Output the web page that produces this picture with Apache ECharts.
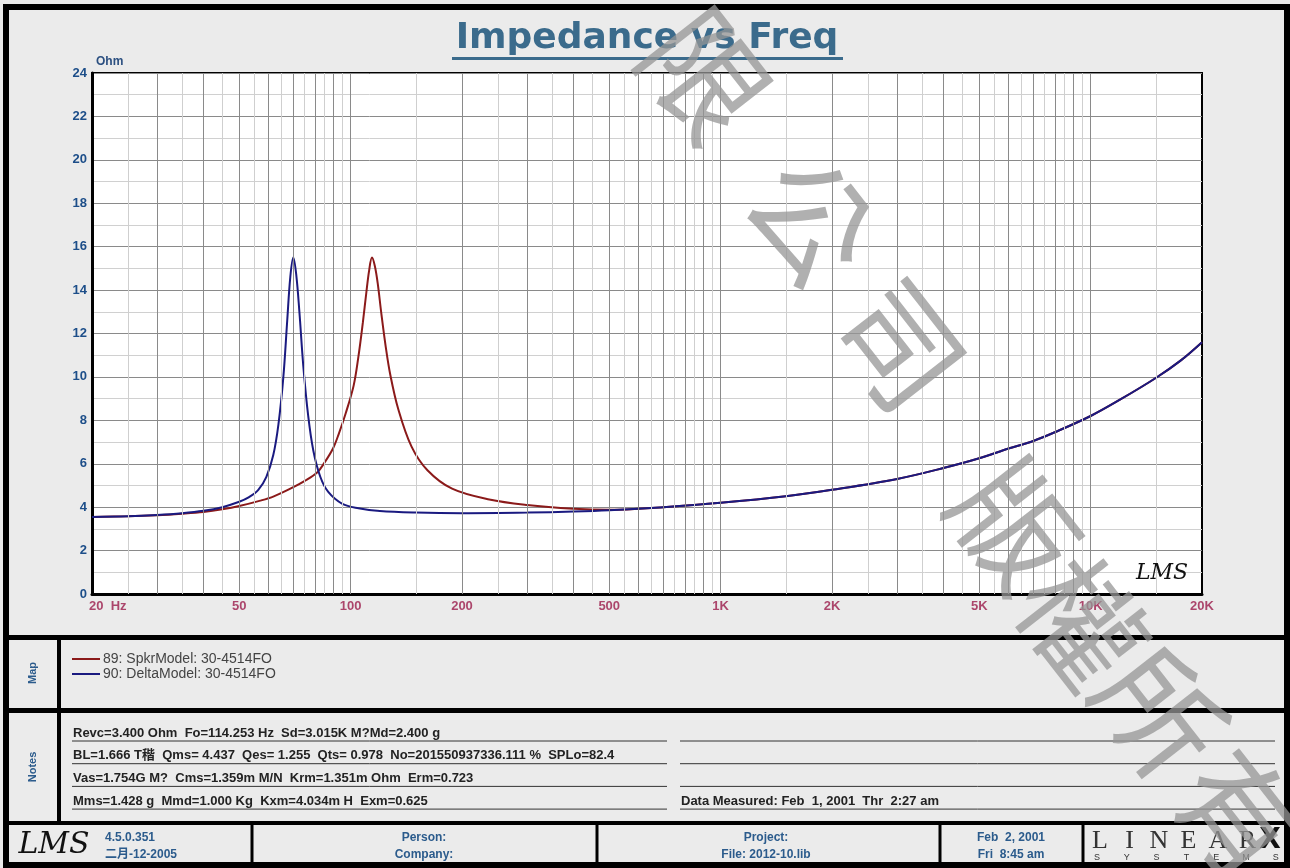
<!DOCTYPE html>
<html>
<head>
<meta charset="utf-8">
<title>Impedance vs Freq</title>
<script src="https://cdn.jsdelivr.net/npm/echarts@6/dist/echarts.min.js"></script>
<style>
html, body { margin: 0; padding: 0; background: #fff; overflow: hidden; }
#chart { width: 1290px; height: 868px; }
</style>
</head>
<body>
<div id="chart"></div>
<script>
// 89: SpkrModel (Hz / Ohm)
const spkrFreq = [20, 25, 30, 35, 40, 45, 50, 57, 62, 69.6, 75, 81.2, 85, 89.6, 93, 96.9, 101.9, 104.9, 107.9, 110.3, 112.2, 114.2, 116.3, 118.4, 121.1, 124.4, 128, 134.6, 146, 161.3, 188, 237, 300, 400, 500, 700, 1000, 1500, 2000, 3000, 4000, 5000, 6000, 7000, 8000, 10000, 12000, 15000, 17500, 20000]
const spkrOhm = [3.55, 3.58, 3.63, 3.7, 3.78, 3.9, 4.05, 4.3, 4.5, 4.9, 5.2, 5.6, 6.05, 6.7, 7.4, 8.3, 9.6, 10.9, 12.5, 13.9, 14.9, 15.5, 15.1, 14.3, 12.9, 11.4, 10.1, 8.5, 6.8, 5.7, 4.85, 4.35, 4.1, 3.93, 3.88, 4.0, 4.2, 4.5, 4.8, 5.3, 5.8, 6.25, 6.7, 7.05, 7.45, 8.2, 8.95, 9.95, 10.75, 11.6]

// 90: DeltaModel (Hz / Ohm)
const deltaFreq = [20, 25, 30, 35, 40, 45, 50, 53, 56.3, 59.2, 61.8, 63.8, 65.8, 67.4, 68.7, 70, 71.3, 72.7, 74.5, 76.8, 79.3, 82.8, 87, 95, 105, 120, 150, 200, 300, 400, 500, 700, 1000, 1500, 2000, 3000, 4000, 5000, 6000, 7000, 8000, 10000, 12000, 15000, 17500, 20000]
const deltaOhm = [3.55, 3.58, 3.64, 3.72, 3.83, 4.0, 4.25, 4.45, 4.8, 5.4, 6.4, 7.8, 10.0, 12.6, 14.6, 15.5, 14.7, 13.0, 10.5, 8.2, 6.6, 5.4, 4.7, 4.15, 3.95, 3.82, 3.75, 3.72, 3.75, 3.8, 3.86, 4.0, 4.2, 4.5, 4.8, 5.3, 5.8, 6.25, 6.7, 7.05, 7.45, 8.2, 8.95, 9.95, 10.75, 11.6]

// x axis labels
const freqTicks = [20, 50, 100, 200, 500, 1000, 2000, 5000, 10000, 20000]
const freqTickLabels = ['20  Hz', '50', '100', '200', '500', '1K', '2K', '5K', '10K', '20K']

const seriesNames = ['89: SpkrModel: 30-4514FO', '90: DeltaModel: 30-4514FO']
const seriesColors = ['#8b1a1a', '#1a1a80']

const notesLeft = [
  'Revc=3.400 Ohm  Fo=114.253 Hz  Sd=3.015K M?Md=2.400 g',
  'BL=1.666 T稭  Qms= 4.437  Qes= 1.255  Qts= 0.978  No=201550937336.111 %  SPLo=82.4',
  'Vas=1.754G M?  Cms=1.359m M/N  Krm=1.351m Ohm  Erm=0.723',
  'Mms=1.428 g  Mmd=1.000 Kg  Kxm=4.034m H  Exm=0.625'
]
const notesRight = ['', '', '', 'Data Measured: Feb  1, 2001  Thr  2:27 am']

const watermarkChars = ['限', '公', '司', '版', '權', '所', '有']

// log grid lines: 1, 1.5, 2, 2.5 ... 9.5 in every decade
const gridFreqs = []
;[10, 100, 1000, 10000].forEach(d => {
  for (let m = 1; m < 10; m += 0.5) {
    const f = d * m
    if (f > 20 && f < 20000) gridFreqs.push({ f: f, major: Number.isInteger(m) })
  }
})

const SANS = '"Liberation Sans", Arial, "Noto Sans CJK SC", sans-serif'
const LABEL_BLUE = '#2b5b8c'

const chart = echarts.init(document.getElementById('chart'))

function txt(x, y, text, font, fill, align, extra) {
  return Object.assign({
    type: 'text', x: x, y: y,
    style: {
      text: text, font: font, fill: fill,
      align: align || 'left', textAlign: align || 'left',
      verticalAlign: 'middle', textVerticalAlign: 'middle'
    }
  }, extra || {})
}
function line(x1, y1, x2, y2, w, color) {
  return { type: 'line', shape: { x1: x1, y1: y1, x2: x2, y2: y2 }, style: { stroke: color || '#000', lineWidth: w } }
}

const graphics = []
// frame
graphics.push({ type: 'rect', shape: { x: 6, y: 7, width: 1281, height: 858 }, style: { fill: null, stroke: '#000', lineWidth: 6 } })
graphics.push(line(6, 637.5, 1287, 637.5, 5))
graphics.push(line(6, 710.5, 1287, 710.5, 5))
graphics.push(line(6, 823, 1287, 823, 4))
graphics.push(line(59, 640, 59, 821, 4))
;[252, 597, 940, 1083].forEach(x => graphics.push(line(x, 824, x, 864, 3)))

// title
graphics.push(txt(647, 39, 'Impedance vs Freq', 'bold 36px "DejaVu Sans", Verdana, sans-serif', '#3b6b8c', 'center'))
graphics.push(line(452, 58.5, 843, 58.5, 3, '#3b6b8c'))

// LMS logo inside plot
graphics.push(txt(1162, 573, 'LMS', 'italic 22px "DejaVu Serif", serif', '#111', 'center', { z: 10 }))

// Map panel
graphics.push(txt(33, 673, 'Map', 'bold 11px ' + SANS, LABEL_BLUE, 'center', { rotation: Math.PI / 2 }))
seriesNames.forEach((name, i) => {
  const y = 659 + i * 15
  graphics.push(line(72, y, 100, y, 2, seriesColors[i]))
  graphics.push(txt(103, y, name, '14px ' + SANS, '#444', 'left'))
})

// Notes panel
graphics.push(txt(33, 767, 'Notes', 'bold 11px ' + SANS, LABEL_BLUE, 'center', { rotation: Math.PI / 2 }))
notesLeft.forEach((s, i) => {
  const y = 733 + i * 22.7
  graphics.push(txt(73, y, s, 'bold 13px ' + SANS, '#222', 'left'))
  graphics.push(line(72, y + 8, 667, y + 8, 1, '#333'))
  graphics.push(txt(681, y, notesRight[i], 'bold 13px ' + SANS, '#222', 'left'))
  graphics.push(line(680, y + 8, 1275, y + 8, 1, '#333'))
})

// footer
graphics.push(txt(54, 845, 'LMS', 'italic 30px "DejaVu Serif", serif', '#111', 'center'))
graphics.push(txt(105, 838, '4.5.0.351', 'bold 12px ' + SANS, LABEL_BLUE, 'left'))
graphics.push(txt(105, 855, '二月-12-2005', 'bold 12px ' + SANS, LABEL_BLUE, 'left'))
graphics.push(txt(424, 838, 'Person:', 'bold 12px ' + SANS, LABEL_BLUE, 'center'))
graphics.push(txt(424, 855, 'Company:', 'bold 12px ' + SANS, LABEL_BLUE, 'center'))
graphics.push(txt(766, 838, 'Project:', 'bold 12px ' + SANS, LABEL_BLUE, 'center'))
graphics.push(txt(766, 855, 'File: 2012-10.lib', 'bold 12px ' + SANS, LABEL_BLUE, 'center'))
graphics.push(txt(1011, 838, 'Feb  2, 2001', 'bold 12px ' + SANS, LABEL_BLUE, 'center'))
graphics.push(txt(1011, 855, 'Fri  8:45 am', 'bold 12px ' + SANS, LABEL_BLUE, 'center'))
;['L', 'I', 'N', 'E', 'A', 'R'].forEach((c, i) => {
  graphics.push(txt(1100 + i * 29.5, 841, c, '26px "Liberation Serif", serif', '#333', 'center'))
})
graphics.push(txt(1270, 841, 'X', 'bold 28px "DejaVu Sans", sans-serif', '#111', 'center'))
;['S', 'Y', 'S', 'T', 'E', 'M', 'S'].forEach((c, i) => {
  graphics.push(txt(1097 + i * 29.8, 858, c, '9px ' + SANS, '#333', 'center'))
})

// watermark
const wmPos = [[705, 75], [812, 220], [900, 345], [1015, 525], [1082, 622], [1160, 712], [1240, 815]]
watermarkChars.forEach((c, i) => {
  graphics.push(txt(wmPos[i][0], wmPos[i][1], c, '122px "Noto Sans CJK TC", sans-serif', 'rgba(150,150,150,0.75)', 'center',
    { rotation: -52 * Math.PI / 180, z: 100 }))
})

const option = {
  backgroundColor: '#ebebeb',
  animation: false,
  grid: {
    left: 92, top: 73, width: 1110, height: 521,
    show: true, backgroundColor: '#fff', borderColor: '#000', borderWidth: 2
  },
  xAxis: {
    type: 'log', logBase: 10, min: 20, max: 20000,
    axisLine: { show: true, onZero: false, lineStyle: { color: '#000', width: 3 } },
    axisTick: { show: false },
    axisLabel: { show: false },
    splitLine: { show: false },
    minorSplitLine: { show: false }
  },
  yAxis: {
    type: 'value', min: 0, max: 24, interval: 2,
    name: 'Ohm', nameLocation: 'end', nameGap: 5,
    nameTextStyle: { align: 'left', padding: [0, 0, 0, 4], color: '#2b4f80', fontWeight: 'bold', fontSize: 12, fontFamily: 'Liberation Sans' },
    axisLine: { show: true, lineStyle: { color: '#000', width: 3 } },
    axisTick: { show: false },
    axisLabel: { color: '#1d4e89', fontWeight: 'bold', fontSize: 13, fontFamily: 'Liberation Sans', margin: 5 },
    splitLine: { show: true, lineStyle: { color: '#8a8a8a', width: 1 } },
    minorTick: { show: false, splitNumber: 2 },
    minorSplitLine: { show: true, lineStyle: { color: '#d0d0d0', width: 1 } }
  },
  graphic: { elements: graphics },
  series: [
    {
      name: 'grid',
      type: 'line',
      data: [],
      silent: true,
      z: 1,
      markLine: {
        silent: true,
        symbol: ['none', 'none'],
        label: { show: false },
        animation: false,
        data: gridFreqs.map(g => ({
          xAxis: g.f,
          lineStyle: { type: 'solid', width: 1, color: g.major ? '#8a8a8a' : '#cfcfcf' }
        }))
      }
    },
    {
      name: seriesNames[0],
      type: 'line',
      data: spkrFreq.map((f, i) => [f, spkrOhm[i]]),
      smooth: 0.35,
      showSymbol: false,
      z: 3,
      lineStyle: { color: seriesColors[0], width: 2 }
    },
    {
      name: seriesNames[1],
      type: 'line',
      data: deltaFreq.map((f, i) => [f, deltaOhm[i]]),
      smooth: 0.35,
      showSymbol: false,
      z: 4,
      lineStyle: { color: seriesColors[1], width: 2 }
    },
    {
      name: 'xlabels',
      type: 'scatter',
      silent: true,
      clip: false,
      symbolSize: 1,
      itemStyle: { color: 'rgba(0,0,0,0)' },
      data: freqTicks.map((f, i) => i === 0
        ? { value: [f, 0], label: { align: 'left', offset: [-3, 0] } }
        : { value: [f, 0] }),
      label: {
        show: true, position: 'bottom', distance: 5,
        formatter: p => freqTickLabels[p.dataIndex],
        color: '#9b1b4b', fontWeight: 'bold', fontSize: 13, fontFamily: 'Liberation Sans'
      }
    }
  ]
}

chart.setOption(option)
</script>
</body>
</html>
